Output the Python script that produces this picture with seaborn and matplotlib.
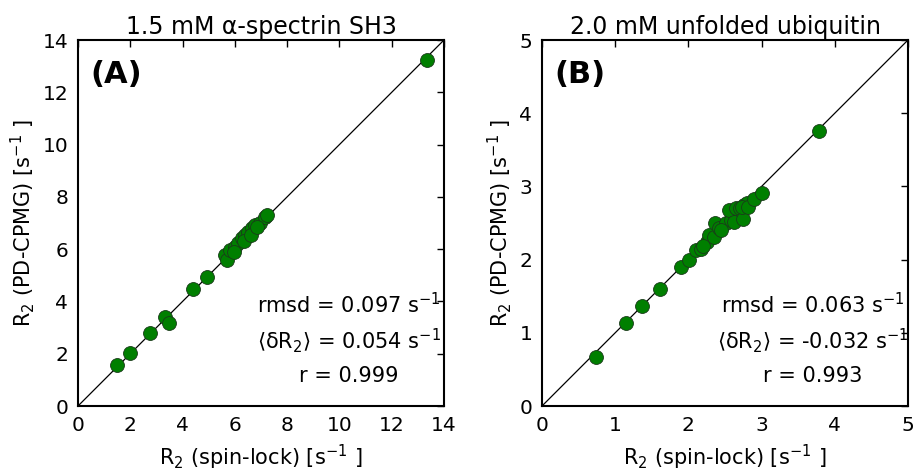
import matplotlib
matplotlib.use("Agg")
import matplotlib.pyplot as plt
import seaborn as sns
import pandas as pd

# Panel A: 1.5 mM alpha-spectrin SH3
a_spinlock = [1.48, 1.99, 2.75, 3.33, 3.49, 4.39, 4.92, 5.62, 5.69, 5.81, 6.00, 6.13,
              6.26, 6.39, 6.52, 6.64, 6.77, 6.96, 7.15, 7.22, 5.95, 6.35, 6.60, 6.85,
              13.34]
a_pdcpmg = [1.57, 2.02, 2.79, 3.40, 3.19, 4.46, 4.92, 5.78, 5.59, 5.97, 6.09, 6.22,
            6.41, 6.54, 6.67, 6.80, 6.92, 6.99, 7.24, 7.31, 5.90, 6.30, 6.55, 6.85,
            13.24]

# Panel B: 2.0 mM unfolded ubiquitin
b_spinlock = [0.74, 1.15, 1.37, 1.61, 1.90, 2.01, 2.10, 2.17, 2.26, 2.28, 2.35, 2.37,
              2.42, 2.51, 2.58, 2.55, 2.62, 2.65, 2.71, 2.74, 2.76, 2.80, 2.73, 2.82,
              2.89, 3.00, 2.20, 2.45, 3.78]
b_pdcpmg = [0.67, 1.13, 1.37, 1.60, 1.90, 1.99, 2.13, 2.15, 2.24, 2.34, 2.31, 2.50,
            2.43, 2.50, 2.54, 2.68, 2.52, 2.70, 2.70, 2.55, 2.75, 2.77, 2.72, 2.72,
            2.83, 2.91, 2.18, 2.40, 3.76]

titles = ["1.5 mM \u03b1-spectrin SH3", "2.0 mM unfolded ubiquitin"]
panel_labels = ["(A)", "(B)"]
limits = [14, 5]
xticks = [[0, 2, 4, 6, 8, 10, 12, 14], [0, 1, 2, 3, 4, 5]]
stats = [
    ["rmsd = 0.097 s$^{-1}$", "$\\langle$\u03b4R$_2$$\\rangle$ = 0.054 s$^{-1}$", "r = 0.999"],
    ["rmsd = 0.063 s$^{-1}$", "$\\langle$\u03b4R$_2$$\\rangle$ = -0.032 s$^{-1}$", "r = 0.993"],
]

sns.set_style("white")
plt.rcParams.update({
    "font.family": ["DejaVu Sans"],
    "mathtext.fontset": "dejavusans",
    "mathtext.default": "regular",
    "text.color": "black",
    "axes.labelcolor": "black",
    "xtick.color": "black",
    "ytick.color": "black",
    "xtick.direction": "in",
    "ytick.direction": "in",
    "xtick.top": True,
    "ytick.right": True,
    "xtick.major.size": 5,
    "ytick.major.size": 5,
    "xtick.major.width": 1,
    "ytick.major.width": 1,
    "axes.edgecolor": "black",
    "axes.linewidth": 1.5,
})

fig = plt.figure(figsize=(9.17, 4.72), dpi=100)
ax_a = fig.add_axes([78 / 917, 66 / 472, 366 / 917, 366 / 472])
ax_b = fig.add_axes([542 / 917, 66 / 472, 366 / 917, 366 / 472])

datasets = [(a_spinlock, a_pdcpmg), (b_spinlock, b_pdcpmg)]
for i, (ax, (xs, ys)) in enumerate(zip([ax_a, ax_b], datasets)):
    df = pd.DataFrame({"x": xs, "y": ys})
    lim = limits[i]
    ax.axline((0, 0), slope=1, color="black", lw=0.9, zorder=1)
    sns.scatterplot(data=df, x="x", y="y", ax=ax, color="#007f00", s=100,
                    edgecolor="#1a3a1a", linewidth=0.6, zorder=3, legend=False)
    ax.set_xlim(0, lim)
    ax.set_ylim(0, lim)
    ax.set_xticks(xticks[i])
    ax.set_yticks(xticks[i])
    ax.tick_params(labelsize=14.5, colors="black", pad=7)
    ax.set_title(titles[i], fontsize=17, pad=4)
    ax.set_xlabel("R$_2$ (spin-lock) [s$^{-1}$ ]", fontsize=15, labelpad=6)
    ax.set_ylabel("R$_2$ (PD-CPMG) [s$^{-1}$ ]", fontsize=15, labelpad=4)
    ax.text(0.035, 0.905, panel_labels[i], transform=ax.transAxes, fontsize=22,
            fontweight="bold", ha="left", va="center")
    ys_txt = [0.276, 0.18, 0.082]
    for t, yy in zip(stats[i], ys_txt):
        ax.text(0.74, yy, t, transform=ax.transAxes, fontsize=15, ha="center",
                va="center")
    for sp in ax.spines.values():
        sp.set_visible(True)

fig.savefig("out.png", dpi=100)
